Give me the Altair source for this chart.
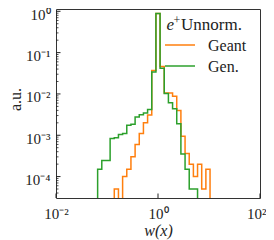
import numpy as np
import pandas as pd
import altair as alt

# bin structure of the histogram: 49 log-spaced bins between 1e-2 and 1e2
edges = np.logspace(-2, 2, 50)

# Geant (orange): first bin index and per-bin values
geant_first = 14
geant_vals = [5e-5, 0.0, 1e-4, 1.5e-4, 3e-4, 6e-4, 1.1e-3, 2.0e-3, 3.1e-3,
              0.037, 0.88, 0.046, 0.0106, 0.0106, 8.8e-3, 4.0e-3, 9.4e-4,
              3.6e-4, 2e-4, 1e-4, 2e-4, 5e-5, 1.5e-4]

# Gen. (green)
gen_first = 10
gen_vals = [1.5e-4, 2.45e-4, 2.45e-4, 8.3e-4, 8.7e-4, 1.05e-3, 1.1e-3, 1.75e-3,
            1.85e-3, 2.75e-3, 3.15e-3, 3.45e-3, 4.2e-3, 0.034, 0.89, 0.042,
            0.0102, 6.1e-3, 4.4e-3, 1.9e-3, 3.5e-4, 1.5e-4, 5e-5, 5e-5]

series_names = ["Geant", "Gen."]
series_colors = ["#ff7f0e", "#2ca02c"]

x_ticks = [0.01, 1, 100]
y_ticks = [1e-4, 1e-3, 1e-2, 1e-1, 1]
y_minor = [m * 10.0 ** k for k in range(-5, 1) for m in range(2, 10)]

YMIN, YMAX = 3.03e-5, 1.137
TINY = 1e-7


def step_frame(first, vals, name):
    rows = [(edges[first], TINY)]
    for i, v in enumerate(vals):
        rows.append((edges[first + i], v if v > 0 else TINY))
    last = first + len(vals)
    rows.append((edges[last], vals[-1] if vals[-1] > 0 else TINY))
    rows.append((edges[last], TINY))
    df = pd.DataFrame(rows, columns=["x", "y"])
    df["i"] = range(len(df))
    df["series"] = name
    return df


df_geant = step_frame(geant_first, geant_vals, "Geant")
df_gen = step_frame(gen_first, gen_vals, "Gen.")

W, H = 204, 189
FONT = "Liberation Serif"

xscale = alt.Scale(type="log", domain=[0.01, 100], nice=False)
yscale = alt.Scale(type="log", domain=[YMIN, YMAX], nice=False)
cscale = alt.Scale(domain=series_names, range=series_colors)

xlab = "datum.value < 0.1 ? '10⁻²' : (datum.value < 10 ? '10⁰' : '10²')"
ylab = ("round(log(datum.value)/LN10) == 0 ? '10⁰' : "
        "round(log(datum.value)/LN10) == -1 ? '10⁻¹' : "
        "round(log(datum.value)/LN10) == -2 ? '10⁻²' : "
        "round(log(datum.value)/LN10) == -3 ? '10⁻³' : '10⁻⁴'")

xaxis = alt.Axis(values=x_ticks, labelExpr=xlab, ticks=False, domain=False,
                 grid=False, labelFlush=False,
                 labelAlign={"condition": {"test": "datum.value > 10", "value": "right"},
                             "value": "center"},
                 labelOffset={"condition": {"test": "datum.value > 10", "value": 6},
                              "value": 0},
                 title="w(x)", titleFont=FONT,
                 titleFontStyle="italic", titleFontWeight="normal", titleFontSize=16,
                 titleColor="#222", labelFont=FONT, labelFontSize=15,
                 labelColor="#222", labelPadding=8, titlePadding=1)
yaxis = alt.Axis(values=y_ticks, labelExpr=ylab, ticks=False, domain=False,
                 grid=False, labelFlush=False, title="a.u.", titleFont=FONT,
                 titleFontWeight="normal", titleFontSize=16, titleColor="#222",
                 titleX=-33, titleY=90, labelFont=FONT, labelFontSize=15,
                 labelColor="#222", labelPadding=6, labelOffset=3)


def hist_line(df):
    return alt.Chart(df).mark_line(interpolate="step-after", strokeWidth=1.5,
                                   clip=True).encode(
        x=alt.X("x:Q", scale=xscale, axis=xaxis),
        y=alt.Y("y:Q", scale=yscale, axis=yaxis),
        order=alt.Order("i:Q"),
        color=alt.Color("series:N", scale=cscale, legend=None),
    )


lines = [hist_line(df_geant), hist_line(df_gen)]

ymaj = alt.Chart(pd.DataFrame({"y": y_ticks})).mark_rule(color="#222", strokeWidth=1).encode(
    y=alt.Y("y:Q", scale=yscale, axis=yaxis), x=alt.value(0), x2=alt.value(4.5))
ymin_ = alt.Chart(pd.DataFrame({"y": [v for v in y_minor if YMIN < v < YMAX]})).mark_rule(
    color="#222", strokeWidth=0.8).encode(
    y=alt.Y("y:Q", scale=yscale, axis=yaxis), x=alt.value(0), x2=alt.value(2.5))
xmaj = alt.Chart(pd.DataFrame({"x": x_ticks})).mark_rule(color="#222", strokeWidth=1).encode(
    x=alt.X("x:Q", scale=xscale, axis=xaxis), y=alt.value(H), y2=alt.value(H - 4.5))

# legend (drawn by hand, top-right inside the frame)
leg_y = [36, 57]
leg_lines = []
leg_texts = []
for name, ly in zip(series_names, leg_y):
    d = pd.DataFrame({"series": [name]})
    leg_lines.append(alt.Chart(d).mark_rule(strokeWidth=1.5).encode(
        x=alt.value(109), x2=alt.value(139), y=alt.value(ly),
        color=alt.Color("series:N", scale=cscale, legend=None)))
    leg_texts.append(alt.Chart(d).mark_text(align="left", baseline="middle", font=FONT,
                                            fontSize=16, color="#222").encode(
        x=alt.value(152), y=alt.value(ly + 1), text="series:N"))

one = pd.DataFrame({"a": [0]})
t_e = alt.Chart(one).mark_text(align="left", baseline="alphabetic", font=FONT,
                               fontStyle="italic", fontSize=17, color="#222",
                               text="e").encode(x=alt.value(110.5), y=alt.value(21))
t_plus = alt.Chart(one).mark_text(align="left", baseline="alphabetic", font=FONT,
                                  fontSize=12, color="#222",
                                  text="+").encode(x=alt.value(117.5), y=alt.value(15))
t_un = alt.Chart(one).mark_text(align="left", baseline="alphabetic", font=FONT,
                                fontSize=17, color="#222",
                                text="Unnorm.").encode(x=alt.value(125), y=alt.value(21))

chart = alt.layer(
    *lines, ymaj, ymin_, xmaj, *leg_lines, *leg_texts, t_e, t_plus, t_un
).properties(
    width=W, height=H,
    autosize=alt.AutoSizeParams(type="none"),
    padding={"left": 48, "top": 1, "right": 6, "bottom": 42},
).configure_view(stroke="#333", strokeWidth=1)

chart.save("out.html", embed_options={"renderer": "svg", "actions": False})
